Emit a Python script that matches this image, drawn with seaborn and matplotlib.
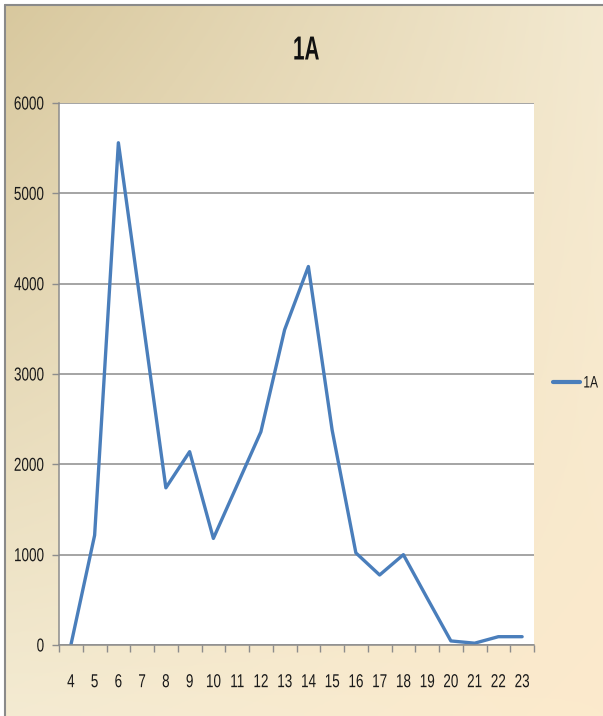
import numpy as np
import pandas as pd
import matplotlib
matplotlib.use("Agg")
import matplotlib.pyplot as plt
from matplotlib.patheffects import AbstractPathEffect
from matplotlib.transforms import Affine2D
import seaborn as sns

# ---- data ----
hours = [4, 5, 6, 7, 8, 9, 10, 11, 12, 13, 14, 15, 16, 17, 18, 19, 20, 21, 22, 23]
values = [0, 1215, 5560, 3650, 1740, 2140, 1180, 1770, 2360, 3490, 4190,
          2380, 1020, 775, 1000, 520, 45, 20, 92, 92]
series_name = "1A"
title = "1A"
y_ticks = [0, 1000, 2000, 3000, 4000, 5000, 6000]

df = pd.DataFrame({"pos": np.arange(len(hours)), "hour": hours, "value": values})

sns.set_theme(style="white")
plt.rcParams["font.family"] = ["Liberation Sans", "DejaVu Sans"]


class Squeeze(AbstractPathEffect):
    """Horizontally condense text to imitate a narrow font."""

    def __init__(self, sx=0.78, anchor="center"):
        super().__init__()
        self.sx = sx
        self.anchor = anchor

    def draw_path(self, renderer, gc, tpath, affine, rgbFace=None):
        ext = tpath.get_extents(affine)
        if self.anchor == "right":
            cx = ext.x1
        elif self.anchor == "left":
            cx = ext.x0
        else:
            cx = 0.5 * (ext.x0 + ext.x1)
        new = affine + Affine2D().translate(-cx, 0).scale(self.sx, 1).translate(cx, 0)
        renderer.draw_path(gc, tpath, new, rgbFace)


W, H = 603, 716
fig = plt.figure(figsize=(W / 100, H / 100), dpi=100)
fig.patch.set_facecolor("white")

# background gradient panel
bg = fig.add_axes([5 / W, 0, 1 - 5 / W, 1 - 5 / H])
yy, xx = np.mgrid[0:1:200j, 0:1:200j]
TL = np.array([216, 200, 158]); TR = np.array([243, 233, 208])
BL = np.array([244, 235, 210]); BR = np.array([252, 234, 204])
img = ((1 - xx)[..., None] * (1 - yy)[..., None] * TL + xx[..., None] * (1 - yy)[..., None] * TR
       + (1 - xx)[..., None] * yy[..., None] * BL + xx[..., None] * yy[..., None] * BR) / 255.0
bg.imshow(img, aspect="auto", extent=[0, 1, 0, 1], origin="upper")
bg.set_axis_off()
fig.add_artist(plt.Line2D([5 / W, 5 / W], [0, 1 - 5 / H], color="#8a8a8a", lw=1.5,
                          transform=fig.transFigure))
fig.add_artist(plt.Line2D([5 / W, 1], [1 - 5 / H, 1 - 5 / H], color="#8a8a8a", lw=1.5,
                          transform=fig.transFigure))

# plot area
L, R, T, B = 59, 534, 103, 645
ax = fig.add_axes([L / W, 1 - B / H, (R - L) / W, (B - T) / H])
ax.set_facecolor("white")

line_color = "#4a7ebb"
sns.lineplot(data=df, x="pos", y="value", ax=ax, color=line_color, lw=2.4,
             label=series_name, legend=False)

ax.set_xlim(-0.5, len(hours) - 0.5)
ax.set_ylim(0, 6000)
ax.set_yticks(y_ticks)
ax.set_yticklabels([str(v) for v in y_ticks], fontsize=13.5, color="#1a1a1a")
ax.yaxis.grid(True, color="#8c8c8c", lw=1.1)
ax.set_axisbelow(True)

ax.set_xticks(np.arange(-0.5, len(hours), 1.0))
ax.set_xticklabels([])
ax.set_xticks(np.arange(len(hours)), minor=True)
ax.set_xticklabels([str(h) for h in hours], minor=True, fontsize=13.5, color="#1a1a1a")
ax.tick_params(axis="x", which="major", direction="out", length=5, width=1,
               color="#8c8c8c", bottom=True)
ax.tick_params(axis="x", which="minor", length=0, pad=21, bottom=True)
ax.tick_params(axis="y", direction="out", length=5, width=1, color="#8c8c8c",
               pad=5.5, left=True)

for lab in ax.get_yticklabels():
    lab.set_path_effects([Squeeze(0.72, "right")])
for lab in ax.get_xticklabels(minor=True):
    lab.set_path_effects([Squeeze(0.72, "center")])

for s in ["left", "bottom"]:
    ax.spines[s].set_color("#8c8c8c")
    ax.spines[s].set_linewidth(1.1)
ax.spines["top"].set_visible(False)
ax.spines["right"].set_visible(False)
ax.set_xlabel("")
ax.set_ylabel("")

fig.text(306 / W, 1 - 51 / H, title, ha="center", va="center", fontsize=24,
         fontweight="bold", color="#111111",
         path_effects=[Squeeze(0.62, "center")])

handles = [plt.Line2D([], [], color=line_color, lw=3)]
leg = fig.legend(handles, [series_name], loc="center left",
                 bbox_to_anchor=(553 / W, 1 - 383 / H), frameon=False,
                 fontsize=12, handlelength=1.6, handletextpad=0.2,
                 borderpad=0, borderaxespad=0)
for txt in leg.get_texts():
    txt.set_color("#1a1a1a")
    txt.set_path_effects([Squeeze(0.72, "left")])

fig.savefig("out.png", dpi=100)
